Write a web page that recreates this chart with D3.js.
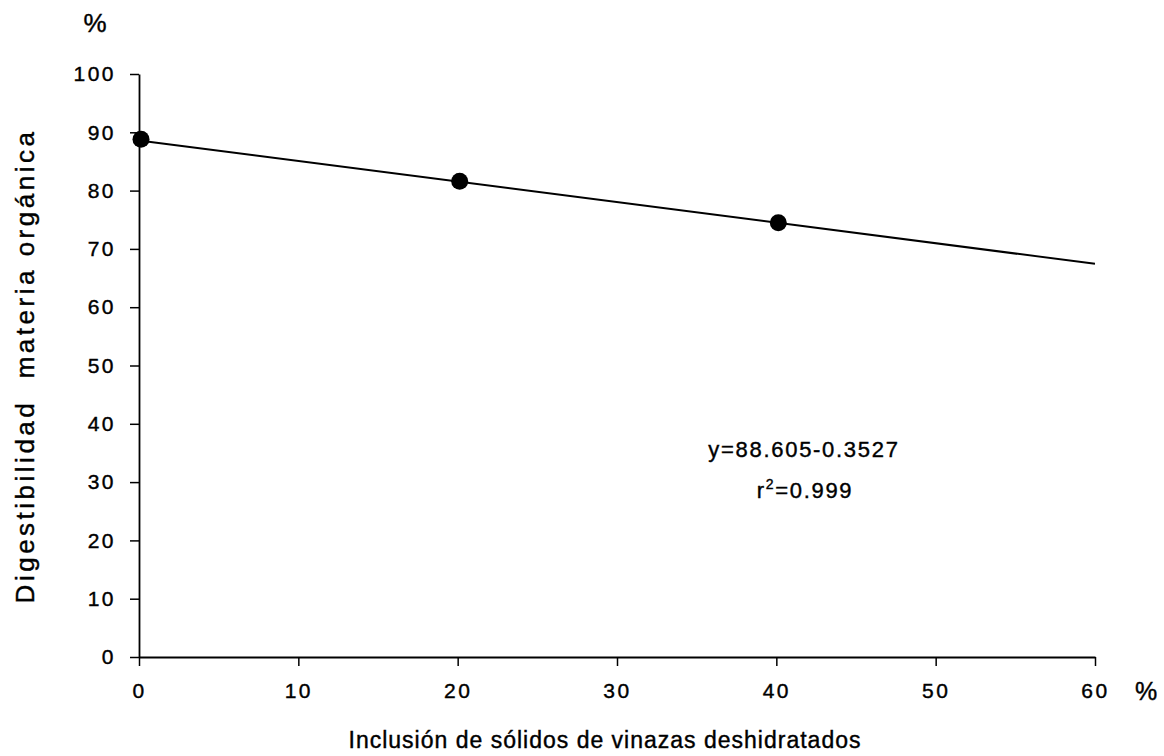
<!DOCTYPE html>
<html><head><meta charset="utf-8">
<script src="https://cdn.jsdelivr.net/npm/d3@7"></script>
<style>
body{margin:0;background:#fff;}
text{font-family:"Liberation Sans",Arial,sans-serif;fill:#000;stroke:#000;stroke-width:0.4px;}
</style></head>
<body><svg id="c" width="1164" height="756"></svg>
<script>
const xValues = [0, 20, 40];
const yValues = [88.8, 81.6, 74.5];
const xTicks = [0, 10, 20, 30, 40, 50, 60];
const yTicks = [0, 10, 20, 30, 40, 50, 60, 70, 80, 90, 100];
const intercept = 88.605;
const slope = -0.3527;
const lineX = [0, 60];
const xTitle = "Inclusión de sólidos de vinazas deshidratados";
const yTitle = "Digestibilidad\u00a0\u00a0materia orgánica";

const svg = d3.select("#c");
const x = d3.scaleLinear().domain([0, 60]).range([139, 1095]);
const y = d3.scaleLinear().domain([0, 100]).range([657, 74]);

const yAxis = svg.append("g").attr("transform", `translate(${x(0)},0)`)
  .call(d3.axisLeft(y).tickValues(yTicks).tickSize(9).tickPadding(14).tickSizeOuter(0));
yAxis.attr("font-size", null).attr("font-family", null);
yAxis.selectAll("text").style("font-size","21px").style("letter-spacing","2.5px");
const xAxis = svg.append("g").attr("transform", `translate(0,${y(0)})`)
  .call(d3.axisBottom(x).tickValues(xTicks).tickSize(9).tickPadding(17).tickSizeOuter(0));
xAxis.attr("font-size", null).attr("font-family", null);
xAxis.selectAll("text").style("font-size","21px").style("letter-spacing","2.5px");
svg.selectAll(".domain").attr("stroke","#000").attr("stroke-width",1.8);
svg.selectAll(".tick line").attr("stroke","#000").attr("stroke-width",1.5);

// regression line
svg.append("path")
  .datum(lineX)
  .attr("d", d3.line().x(d => x(d)).y(d => y(intercept + slope * d)))
  .attr("stroke","#000").attr("stroke-width",2).attr("fill","none");

// points
svg.selectAll("circle.pt").data(xValues).enter().append("circle")
  .attr("class","pt")
  .attr("cx", (d) => x(d) + 2)
  .attr("cy", (d, i) => y(yValues[i]))
  .attr("r", 8.5).attr("fill","#000");

// titles
svg.append("text").attr("x", 95).attr("y", 32).attr("text-anchor","middle")
  .style("font-size","26px").text("%");
svg.append("text").attr("x", 1146).attr("y", 700).attr("text-anchor","middle")
  .style("font-size","25px").text("%");
svg.append("text").attr("x", 605).attr("y", 748).attr("text-anchor","middle")
  .style("font-size","23px").style("letter-spacing","1px").text(xTitle);
svg.append("text").attr("transform","translate(34,366) rotate(-90)").attr("text-anchor","middle")
  .style("font-size","26px").style("letter-spacing","3.5px").text(yTitle);

// equation
svg.append("text").attr("x", 804).attr("y", 457).attr("text-anchor","middle")
  .style("font-size","22px").style("letter-spacing","1.7px").text("y=88.605-0.3527");
const r = svg.append("text").attr("x", 805).attr("y", 498).attr("text-anchor","middle")
  .style("font-size","22px").style("letter-spacing","1.7px");
r.append("tspan").text("r");
r.append("tspan").attr("dy", -9).style("font-size","14px").text("2");
r.append("tspan").attr("dy", 9).text("=0.999");
</script></body></html>
